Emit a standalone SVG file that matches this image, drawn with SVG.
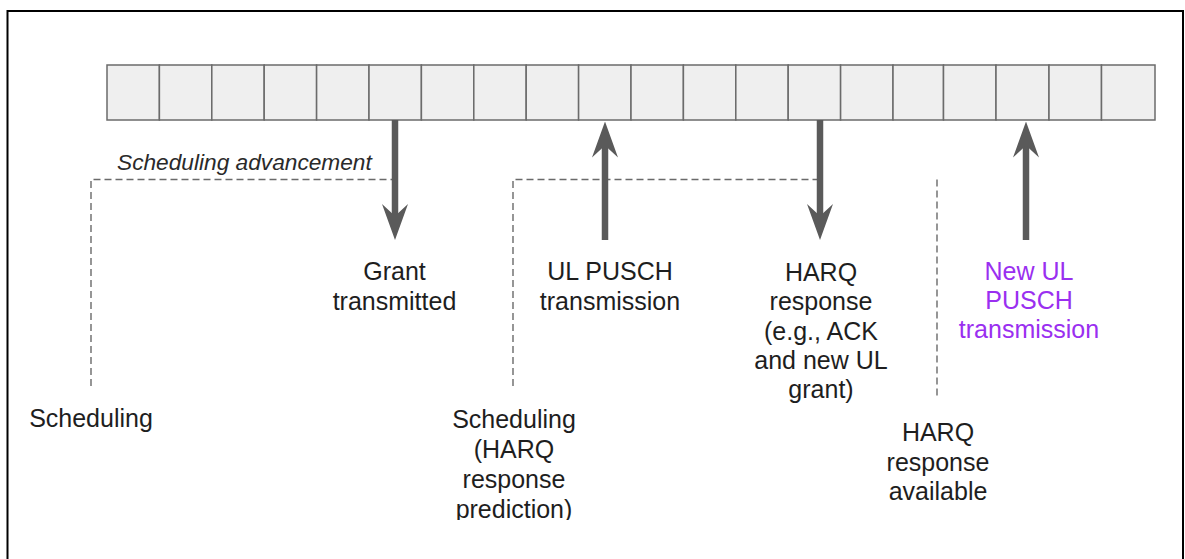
<svg xmlns="http://www.w3.org/2000/svg" width="1185" height="559" viewBox="0 0 1185 559">
  <style>
    .cell { fill: #efefef; stroke: #6b6b6b; stroke-width: 1.5; }
    .lbl { font-family: "Liberation Sans", Arial, sans-serif; font-size: 25px; fill: #1e1e1e; text-anchor: middle; }
    .purple { fill: #9a2ff0; }
    .ital { font-family: "Liberation Sans", Arial, sans-serif; font-size: 22.7px; font-style: italic; fill: #2a2a2a; }
    .dash { fill: none; stroke: #6a6a6a; stroke-width: 1.4; stroke-dasharray: 7 4; }
    .shaft { fill: none; stroke: #5a5a5a; stroke-width: 6.5; marker-end: url(#head); }
  </style>
  <defs>
    <marker id="head" viewBox="0 0 36 26" refX="16" refY="13" markerWidth="36" markerHeight="26" markerUnits="userSpaceOnUse" orient="auto">
      <path d="M0,0 L36,13 L0,26 L12,13 Z" fill="#5a5a5a"/>
    </marker>
    <clipPath id="clipBottom">
      <rect x="0" y="0" width="1185" height="520"/>
    </clipPath>
  </defs>

  <rect x="7.5" y="11" width="1175.5" height="560" fill="#ffffff" stroke="#000000" stroke-width="2"/>

  <g id="timeline">
    <rect class="cell" x="107" y="65" width="52.4" height="55"/>
    <rect class="cell" x="159.4" y="65" width="52.4" height="55"/>
    <rect class="cell" x="211.8" y="65" width="52.4" height="55"/>
    <rect class="cell" x="264.2" y="65" width="52.4" height="55"/>
    <rect class="cell" x="316.6" y="65" width="52.4" height="55"/>
    <rect class="cell" x="369" y="65" width="52.4" height="55"/>
    <rect class="cell" x="421.4" y="65" width="52.4" height="55"/>
    <rect class="cell" x="473.8" y="65" width="52.4" height="55"/>
    <rect class="cell" x="526.2" y="65" width="52.4" height="55"/>
    <rect class="cell" x="578.6" y="65" width="52.4" height="55"/>
    <rect class="cell" x="631" y="65" width="52.4" height="55"/>
    <rect class="cell" x="683.4" y="65" width="52.4" height="55"/>
    <rect class="cell" x="735.8" y="65" width="52.4" height="55"/>
    <rect class="cell" x="788.2" y="65" width="52.4" height="55"/>
    <rect class="cell" x="840.6" y="65" width="52.4" height="55"/>
    <rect class="cell" x="893" y="65" width="50.5" height="55"/>
    <rect class="cell" x="943.5" y="65" width="52.5" height="55"/>
    <rect class="cell" x="996" y="65" width="53" height="55"/>
    <rect class="cell" x="1049" y="65" width="52.5" height="55"/>
    <rect class="cell" x="1101.5" y="65" width="53.5" height="55"/>
  </g>

  <g id="connectors">
    <path class="dash" d="M91,386 V179.5 H395"/>
    <path class="dash" d="M513,386 V179.5 H820"/>
    <path class="dash" d="M937,179.5 V398"/>
    <line class="shaft" x1="395" y1="120" x2="395" y2="220"/>
    <line class="shaft" x1="605" y1="240" x2="605" y2="141.5"/>
    <line class="shaft" x1="820" y1="120" x2="820" y2="220"/>
    <line class="shaft" x1="1026" y1="240" x2="1026" y2="141.5"/>
  </g>

  <g id="label-advancement">
    <text class="ital" x="117" y="170">Scheduling advancement</text>
  </g>

  <g id="node-grant">
    <text class="lbl" x="394.5" y="280">Grant</text>
    <text class="lbl" x="394.5" y="310">transmitted</text>
  </g>

  <g id="node-ul-pusch">
    <text class="lbl" x="610" y="280">UL PUSCH</text>
    <text class="lbl" x="610" y="310">transmission</text>
  </g>

  <g id="node-harq-response">
    <text class="lbl" x="821" y="281">HARQ</text>
    <text class="lbl" x="821" y="310">response</text>
    <text class="lbl" x="821" y="339.5">(e.g., ACK</text>
    <text class="lbl" x="821" y="368.5">and new UL</text>
    <text class="lbl" x="821" y="398">grant)</text>
  </g>

  <g id="node-new-ul">
    <text class="lbl purple" x="1029" y="280">New UL</text>
    <text class="lbl purple" x="1029" y="309">PUSCH</text>
    <text class="lbl purple" x="1029" y="338">transmission</text>
  </g>

  <g id="node-scheduling">
    <text class="lbl" x="91" y="427">Scheduling</text>
  </g>

  <g id="node-scheduling-prediction" clip-path="url(#clipBottom)">
    <text class="lbl" x="514" y="428">Scheduling</text>
    <text class="lbl" x="514" y="458">(HARQ</text>
    <text class="lbl" x="514" y="488">response</text>
    <text class="lbl" x="514" y="518">prediction)</text>
  </g>

  <g id="node-harq-available">
    <text class="lbl" x="938" y="441">HARQ</text>
    <text class="lbl" x="938" y="470.5">response</text>
    <text class="lbl" x="938" y="500">available</text>
  </g>
</svg>
